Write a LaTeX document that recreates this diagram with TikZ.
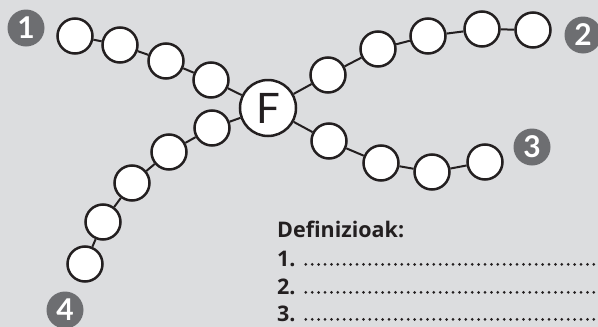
\documentclass[tikz,border=0pt]{standalone}
\usepackage{fontspec}
\setmainfont{Lato}
\newfontfamily\defsfont{Open Sans}
\usepackage{xcolor}
\definecolor{paper}{HTML}{DCDDDF}
\definecolor{badgegrey}{HTML}{6D6E71}
\definecolor{inkblack}{HTML}{231F20}

\begin{document}
\begin{tikzpicture}[
  x=1pt,y=-1pt,
  bead/.style={circle,draw=inkblack,fill=white,line width=2.5pt,
    minimum size=35pt,inner sep=0pt},
  hub/.style={bead,minimum size=56pt,font=\fontsize{42}{42}\selectfont,text=inkblack},
  badge/.style={circle,fill=badgegrey,minimum size=37pt,inner sep=0pt,
    text=white,font=\fontsize{30}{30}\selectfont\bfseries},
  link/.style={line width=2pt,draw=inkblack},
  deftext/.style={anchor=base west,inner sep=0pt,text=inkblack,
    font=\defsfont\fontsize{21.5}{21.5}\selectfont\bfseries},
  dotline/.style={line width=3pt,line cap=round,dash pattern=on 0pt off 6.4pt,
    draw=inkblack}
]
  \fill[paper] (0,0) rectangle (598,327);
  \useasboundingbox (0,0) rectangle (598,327);

  \node[hub] (f) at (268,108) {F};

  \node[bead] (a1) at (211,80) {};
  \node[bead] (a2) at (166,61) {};
  \node[bead] (a3) at (120,45) {};
  \node[bead] (a4) at (75,36) {};
  \node[badge] (n1) at (26,28) {1};

  \node[bead] (b1) at (328,75) {};
  \node[bead] (b2) at (378,49) {};
  \node[bead] (b3) at (428,36) {};
  \node[bead] (b4) at (482,29) {};
  \node[bead] (b5) at (533,30) {};
  \node[badge] (n2) at (583,35) {2};

  \node[bead] (c1) at (329,141) {};
  \node[bead] (c2) at (381,163) {};
  \node[bead] (c3) at (432,172) {};
  \node[bead] (c4) at (485,162) {};
  \node[badge] (n3) at (532,147) {3};

  \node[bead] (d1) at (212,128) {};
  \node[bead] (d2) at (169,152) {};
  \node[bead] (d3) at (132,183) {};
  \node[bead] (d4) at (103,222) {};
  \node[bead] (d5) at (85,264) {};
  \node[badge] (n4) at (65,310) {4};

  \draw[link] (f) -- (a1) -- (a2) -- (a3) -- (a4);
  \draw[link] (f) -- (b1) -- (b2) -- (b3) -- (b4) -- (b5);
  \draw[link] (f) -- (c1) -- (c2) -- (c3) -- (c4);
  \draw[link] (f) -- (d1) -- (d2) -- (d3) -- (d4) -- (d5);

  \node[deftext] (title) at (277,237) {Definizioak:};
  \foreach \i/\y in {1/266,2/294,3/321}{
    \node[deftext] (l\i) at (277,\y) {\i.};
    \coordinate (e\i) at (600,\y);
    \draw[dotline] ([xshift=10pt,yshift=1.6pt]l\i.base east) -- ([yshift=1.6pt]e\i);
  }
\end{tikzpicture}
\end{document}
